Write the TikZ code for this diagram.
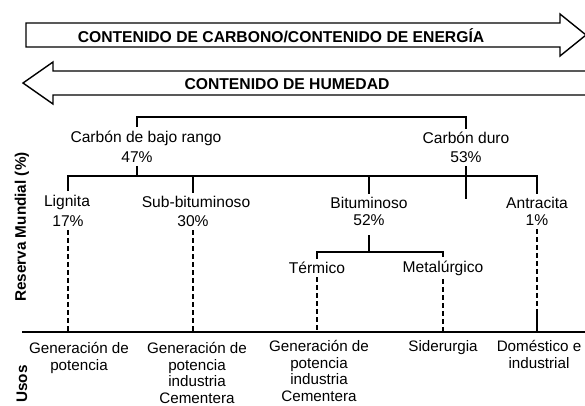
\documentclass[tikz,border=0pt]{standalone}
\usepackage{fontspec}
\setmainfont{Liberation Sans}

\begin{document}
\begin{tikzpicture}[x=1pt,y=-1pt,font=\fontsize{15.6}{17}\selectfont,
    banner/.style={font=\fontsize{15.7}{18}\selectfont\bfseries},
    frame/.style={line width=1.4pt,line join=miter},
    link/.style={line width=1.4pt},
    use/.style={line width=1.5pt,dash pattern=on 5pt off 3pt},
    ground/.style={line width=2.6pt},
    usetext/.style={align=center,anchor=north,inner sep=0pt,font=\fontsize{15.2}{16.7}\selectfont},
    axis/.style={rotate=90,font=\fontsize{15.3}{18}\selectfont\bfseries}]
%       \draw[red] (0,0) rectangle (585,405);
      \useasboundingbox (0,0) rectangle (585,405);

    % arrows on top
      \draw[frame] (26,23) -- (560,23) -- (560,14) -- (586,35) -- (560,56) -- (560,47) -- (26,47) -- cycle;
      \node[banner] (carbon) at (281,36) {CONTENIDO DE CARBONO/CONTENIDO DE ENERGÍA};
      \draw[frame] (590,71) -- (53,71) -- (53,62) -- (23,83) -- (53,104) -- (53,95) -- (590,95);
      \node[banner] (humedad) at (287,84) {CONTENIDO DE HUMEDAD};

    % side labels
      \node[axis] (reserva) at (22,227) {Reserva Mundial (\%)};
      \node[axis] (usos) at (22,384) {Usos};

    % coal ranks
      \node (low) at (146,138) {Carbón de bajo rango};
      \node (lowp) at (137,157) {47\%};
      \node (hard) at (466,138) {Carbón duro};
      \node (hardp) at (466,157) {53\%};

      \node (lig) at (67,202) {Lignita};
      \node (ligp) at (68,221) {17\%};
      \node (sub) at (196,202) {Sub-bituminoso};
      \node (subp) at (193,221) {30\%};
      \node (bit) at (369,203) {Bituminoso};
      \node (bitp) at (369,220) {52\%};
      \node (ant) at (537,203) {Antracita};
      \node (antp) at (537,220) {1\%};

      \node (ter) at (317,268) {Térmico};
      \node (met) at (443,268) {Metalúrgico};

    % uses
      \node[usetext] (use1) at (79,342) {Generación de\\potencia};
      \node[usetext] (use2) at (197,342) {Generación de\\potencia\\industria\\Cementera};
      \node[usetext] (use3) at (319,340) {Generación de\\potencia\\industria\\Cementera};
      \node[usetext] (use4) at (443,340) {Siderurgia};
      \node[usetext] (use5) at (539,340) {Doméstico e\\industrial};

    % tree connections
      \coordinate (top) at (0,117);
      \coordinate (mid) at (0,176);
      \coordinate (stub) at (0,199);
      \coordinate (fork) at (0,252);
      \coordinate (baseL) at (22,332);
      \coordinate (baseR) at (590,332);

      \draw[link] (lowp |- low.north) -- (lowp |- top) -- (hardp |- top) -- (hardp |- hard.north);
      \draw[link] (lowp.south) -- (lowp |- mid);
      \draw[link] (hardp.south) -- (hardp |- stub);
      \draw[link] (ligp |- lig.north) -- (ligp |- mid) -- (antp |- mid) -- (antp |- ant.north);
      \draw[link] (subp |- mid) -- (subp |- sub.north);
      \draw[link] (bitp |- mid) -- (bitp |- bit.north);
      \draw[link,shorten <=6pt] (bitp.south) -- (bitp |- fork);
      \draw[link] (ter.north) -- (ter |- fork) -- (met |- fork) -- (met.north);

    % uses line
      \draw[ground] (baseL) -- (baseR);
      \draw[use] (ligp.south) -- (ligp |- baseL);
      \draw[use] (subp.south) -- (subp |- baseL);
      \draw[use] (ter.south) -- (ter |- baseL);
      \draw[use] (met.south) -- (met |- baseL);
      \draw[use] (antp.south) -- (antp |- baseL);
      \draw[link] (antp |- baseL) -- ++(0,-20);

\end{tikzpicture}
\end{document}
